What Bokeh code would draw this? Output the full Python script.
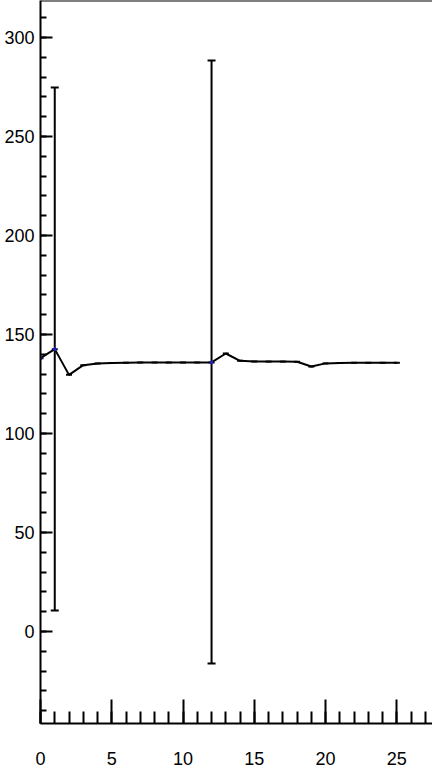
from bokeh.plotting import figure
from bokeh.models import ColumnDataSource, Whisker, TeeHead, Span, SingleIntervalTicker, Range1d
from bokeh.embed import file_html
from bokeh.resources import INLINE

x_vals = list(range(26))
y_vals = [138.0, 142.6, 129.6, 134.5, 135.4, 135.6, 135.7, 135.8, 135.8, 135.8,
          135.8, 135.8, 135.9, 140.4, 136.7, 136.4, 136.3, 136.3, 136.2, 133.8,
          135.4, 135.6, 135.7, 135.7, 135.7, 135.7]
err_x = [1, 12]
err_upper = [274.7, 288.4]
err_lower = [10.6, -16.2]
blue_x = [0, 1, 12]
blue_y = [138.0, 142.6, 135.9]

X_START, X_END = 0, 27.5
Y_START, Y_END = -46.5, 318.7

p = figure(width=432, height=773, output_backend="svg", toolbar_location=None,
           x_range=Range1d(X_START, X_END), y_range=Range1d(Y_START, Y_END),
           min_border_left=40, min_border_right=0, min_border_top=0, min_border_bottom=50)
p.outline_line_color = None
p.grid.visible = False
p.background_fill_color = "white"
p.border_fill_color = "white"

src = ColumnDataSource(dict(x=x_vals, y=y_vals))
p.line("x", "y", source=src, line_color="black", line_width=2)
p.scatter("x", "y", source=src, marker="dash", size=6, line_color="black", line_width=2)
p.scatter(blue_x, blue_y, marker="circle", size=3, fill_color="#2020c0", line_color="#2020c0")

esrc = ColumnDataSource(dict(x=err_x, upper=err_upper, lower=err_lower))
w = Whisker(source=esrc, base="x", upper="upper", lower="lower",
            line_color="black", line_width=2,
            upper_head=TeeHead(size=8, line_color="black", line_width=2),
            lower_head=TeeHead(size=8, line_color="black", line_width=2))
p.add_layout(w)

p.add_layout(Span(location=Y_END, dimension="width", line_color="black", line_width=2))

xa = p.xaxis[0]
xa.ticker = SingleIntervalTicker(interval=5, num_minor_ticks=5)
xa.major_tick_in = 24
xa.major_tick_out = 0
xa.minor_tick_in = 12
xa.minor_tick_out = 0
xa.axis_line_width = 2
xa.major_tick_line_width = 2
xa.minor_tick_line_width = 2
xa.major_label_standoff = 28
xa.major_label_text_font = "Liberation Sans"
xa.major_label_text_font_size = "18px"
xa.major_label_text_color = "black"

ya = p.yaxis[0]
ya.ticker = SingleIntervalTicker(interval=50, num_minor_ticks=5)
ya.major_tick_in = 12
ya.major_tick_out = 0
ya.minor_tick_in = 6
ya.minor_tick_out = 0
ya.axis_line_width = 2
ya.major_tick_line_width = 2
ya.minor_tick_line_width = 2
ya.major_label_standoff = 6
ya.major_label_text_font = "Liberation Sans"
ya.major_label_text_font_size = "18px"
ya.major_label_text_color = "black"

open("out.html", "w").write(file_html(p, INLINE))
